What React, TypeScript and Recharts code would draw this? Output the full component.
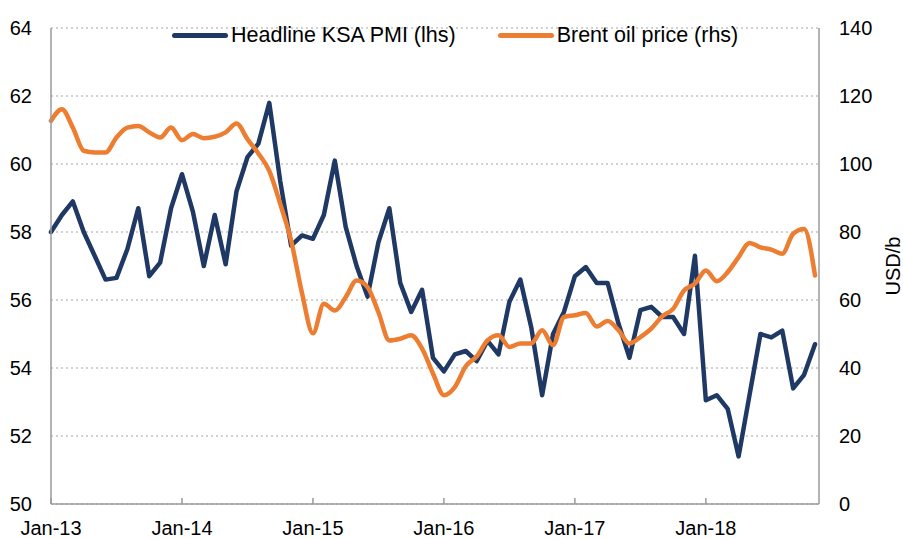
import React from 'react';
import { ComposedChart, Line, XAxis, YAxis, CartesianGrid, Legend } from 'recharts';

const months = [
  'Jan-13','Feb-13','Mar-13','Apr-13','May-13','Jun-13','Jul-13','Aug-13','Sep-13','Oct-13','Nov-13','Dec-13',
  'Jan-14','Feb-14','Mar-14','Apr-14','May-14','Jun-14','Jul-14','Aug-14','Sep-14','Oct-14','Nov-14','Dec-14',
  'Jan-15','Feb-15','Mar-15','Apr-15','May-15','Jun-15','Jul-15','Aug-15','Sep-15','Oct-15','Nov-15','Dec-15',
  'Jan-16','Feb-16','Mar-16','Apr-16','May-16','Jun-16','Jul-16','Aug-16','Sep-16','Oct-16','Nov-16','Dec-16',
  'Jan-17','Feb-17','Mar-17','Apr-17','May-17','Jun-17','Jul-17','Aug-17','Sep-17','Oct-17','Nov-17','Dec-17',
  'Jan-18','Feb-18','Mar-18','Apr-18','May-18','Jun-18','Jul-18','Aug-18','Sep-18','Oct-18','Nov-18',
];

const pmi = [
  58.0, 58.5, 58.9, 58.0, 57.3, 56.6, 56.65, 57.5, 58.7, 56.7, 57.1, 58.7,
  59.7, 58.6, 57.0, 58.5, 57.05, 59.2, 60.2, 60.6, 61.8, 59.5, 57.6, 57.9,
  57.8, 58.5, 60.1, 58.15, 57.0, 56.1, 57.7, 58.7, 56.5, 55.65, 56.3, 54.3,
  53.9, 54.4, 54.5, 54.2, 54.8, 54.4, 55.95, 56.6, 55.2, 53.2, 55.0, 55.65,
  56.7, 56.97, 56.5, 56.5, 55.3, 54.3, 55.7, 55.8, 55.5, 55.5, 55.0, 57.3,
  53.05, 53.2, 52.8, 51.4, 53.2, 55.0, 54.9, 55.1, 53.4, 53.8, 54.7,
];

const brent = [
  112.7, 116.1, 110.7, 103.9, 103.4, 103.4, 107.8, 110.7, 111.2, 109.3, 107.8, 110.7,
  107.0, 108.8, 107.6, 108.0, 109.3, 111.9, 107.3, 103.1, 98.0, 88.3, 77.5, 62.0,
  50.2, 58.9, 56.9, 60.8, 65.7, 63.8, 56.4, 48.1, 48.6, 49.6, 45.7, 38.4,
  32.0, 34.4, 40.5, 43.4, 48.1, 49.6, 46.2, 47.2, 47.2, 51.1, 46.7, 55.0,
  55.5, 56.2, 52.2, 53.8, 51.1, 47.2, 49.1, 51.6, 55.2, 57.4, 62.8, 64.8,
  68.7, 65.5, 68.2, 72.6, 76.8, 75.5, 74.8, 73.6, 79.5, 80.9, 67.2,
];

const xTicks = ['Jan-13', 'Jan-14', 'Jan-15', 'Jan-16', 'Jan-17', 'Jan-18'];
const leftTicks = [50, 52, 54, 56, 58, 60, 62, 64];
const rightTicks = [0, 20, 40, 60, 80, 100, 120, 140];

const PMI_NAME = 'Headline KSA PMI (lhs)';
const BRENT_NAME = 'Brent oil price (rhs)';

const NAVY = '#1F3864';
const ORANGE = '#ED7D31';
const FONT = '"Liberation Sans", Arial, sans-serif';
const AXIS = '#9a9a9a';

const data = months.map((m, i) => ({ month: m, pmi: pmi[i], brent: brent[i] }));

const XTick = (props: any) => {
  const { x, y, payload } = props;
  return (
    <g>
      <line x1={x} x2={x} y1={y} y2={y - 6} stroke={AXIS} strokeWidth={1.5} />
      <text x={x} y={y + 31} textAnchor="middle" fontSize={20} fontFamily={FONT} fill="#000">
        {payload.value}
      </text>
    </g>
  );
};

const LegendContent = () => {
  const items = [
    { name: PMI_NAME, color: NAVY },
    { name: BRENT_NAME, color: ORANGE },
  ];
  return (
    <div style={{ display: 'flex', alignItems: 'center', fontFamily: FONT, fontSize: 21.5, lineHeight: '26px', color: '#000', whiteSpace: 'nowrap' }}>
      {items.map((it, k) => (
        <div key={k} style={{ display: 'flex', alignItems: 'center', marginRight: k === 0 ? 42 : 0 }}>
          <div style={{ width: 56, height: 5, borderRadius: 3, background: it.color, marginRight: 3 }} />
          <span>{it.name}</span>
        </div>
      ))}
    </div>
  );
};

export default function App() {
  return (
    <div style={{ position: 'absolute', left: 0, top: 0, width: 903, height: 539, background: '#fff' }}>
      <ComposedChart width={903} height={539} data={data} margin={{ top: 28, right: 0, bottom: 0, left: 0 }}>
        <CartesianGrid yAxisId="left" vertical={false} stroke="#c4c4c4" strokeWidth={1.5} strokeDasharray="2 3" />
        <XAxis
          dataKey="month"
          ticks={xTicks}
          interval={0}
          height={35}
          padding={{ left: 0, right: 4 }}
          tickLine={false}
          tickSize={0}
          tickMargin={0}
          tick={<XTick />}
          axisLine={{ stroke: AXIS, strokeWidth: 1.5 }}
        />
        <YAxis
          yAxisId="left"
          orientation="left"
          width={51}
          domain={[50, 64]}
          ticks={leftTicks}
          interval={0}
          tickLine={false}
          tickSize={0}
          tickMargin={19}
          axisLine={{ stroke: AXIS, strokeWidth: 1.5 }}
          tick={{ fontSize: 20, fontFamily: FONT, fill: '#000' }}
        />
        <YAxis
          yAxisId="right"
          orientation="right"
          width={84}
          domain={[0, 140]}
          ticks={rightTicks}
          interval={0}
          tickLine={false}
          tickSize={0}
          tickMargin={20}
          axisLine={{ stroke: AXIS, strokeWidth: 1.5 }}
          tick={{ fontSize: 20, fontFamily: FONT, fill: '#000', textAnchor: 'start' }}
          label={{
            content: () => (
              <text
                x={893}
                y={266}
                transform="rotate(-90 893 266)"
                textAnchor="middle"
                dominantBaseline="central"
                fontSize={20}
                fontFamily={FONT}
                fill="#000"
              >
                USD/b
              </text>
            ),
          }}
        />
        <Legend
          verticalAlign="middle"
          align="center"
          layout="horizontal"
          content={<LegendContent />}
          wrapperStyle={{ position: 'absolute', top: 22, left: 172, width: 'auto', height: 26 }}
        />
        <Line
          yAxisId="left"
          dataKey="pmi"
          name={PMI_NAME}
          type="linear"
          stroke={NAVY}
          strokeWidth={4.5}
          dot={false}
          strokeLinejoin="round"
          strokeLinecap="round"
          isAnimationActive={false}
        />
        <Line
          yAxisId="right"
          dataKey="brent"
          name={BRENT_NAME}
          type="monotone"
          stroke={ORANGE}
          strokeWidth={4.5}
          dot={false}
          strokeLinejoin="round"
          strokeLinecap="round"
          isAnimationActive={false}
        />
      </ComposedChart>
    </div>
  );
}
